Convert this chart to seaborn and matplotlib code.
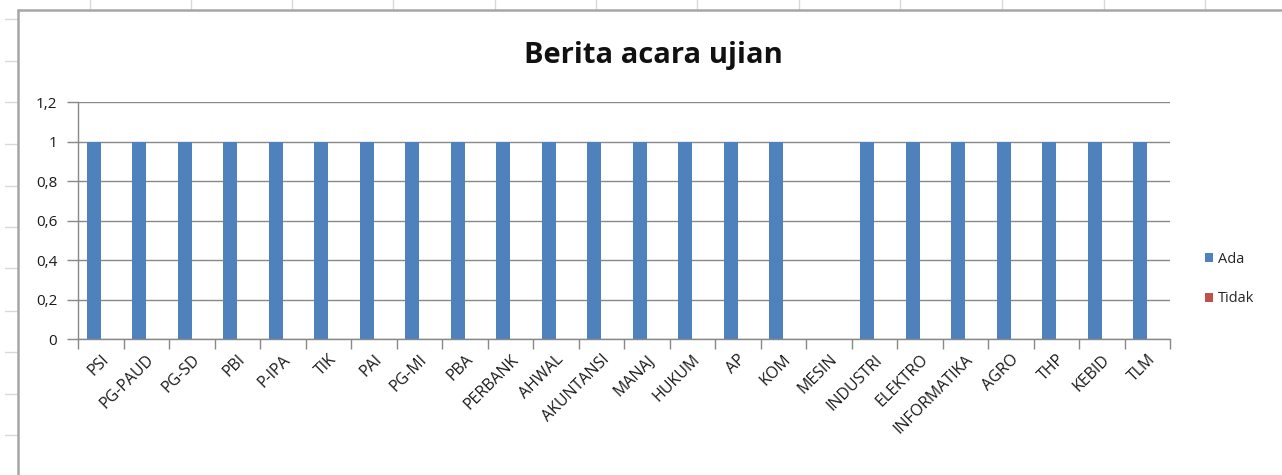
import matplotlib.pyplot as plt
import matplotlib.ticker as mtick
from matplotlib.lines import Line2D
import pandas as pd
import seaborn as sns

# jurusan / program studi
JURUSAN = [
    "PSI", "PG-PAUD", "PG-SD", "PBI", "P-IPA", "TIK", "PAI", "PG-MI", "PBA",
    "PERBANK", "AHWAL", "AKUNTANSI", "MANAJ", "HUKUM", "AP", "KOM", "MESIN",
    "INDUSTRI", "ELEKTRO", "INFORMATIKA", "AGRO", "THP", "KEBID", "TLM",
]
ADA = [1, 1, 1, 1, 1, 1, 1, 1, 1, 1, 1, 1, 1, 1, 1, 1, 0, 1, 1, 1, 1, 1, 1, 1]
TIDAK = [0] * len(JURUSAN)
SERIES = ["Ada", "Tidak"]
COLORS = {"Ada": "#4F81BD", "Tidak": "#C0504D"}

sns.set_theme(style="white")
plt.rcParams["font.family"] = ["Open Sans", "DejaVu Sans"]

df = pd.DataFrame({"jurusan": JURUSAN, "Ada": ADA, "Tidak": TIDAK})
long = df.melt(id_vars="jurusan", value_vars=SERIES, var_name="status", value_name="nilai")

W, H = 1282, 475
fig = plt.figure(figsize=(W / 100, H / 100), dpi=100)
fig.patch.set_facecolor("white")

# spreadsheet cell lines behind the chart object
for x in [90, 190.5, 292, 393, 495, 596, 697, 799, 900, 1002, 1104, 1205]:
    fig.add_artist(Line2D([x / W, x / W], [1, 1 - 10 / H], color="#d9d9d9", lw=1))
for y in [19, 61, 102, 144, 186, 227, 268, 311, 352, 394, 435]:
    fig.add_artist(Line2D([5 / W, 17 / W], [1 - y / H, 1 - y / H], color="#d9d9d9", lw=1))
# chart object border
fig.add_artist(Line2D([18 / W, 18 / W], [0, 1 - 10 / H], color="#a6a6a6", lw=1.8))
fig.add_artist(Line2D([18 / W, 1], [1 - 10 / H, 1 - 10 / H], color="#a6a6a6", lw=1.8))

ax = fig.add_axes([78 / W, 1 - 339.3 / H, (1170 - 78) / W, (339.3 - 102.3) / H])
sns.barplot(
    data=long, x="jurusan", y="nilai", hue="status", order=JURUSAN,
    hue_order=SERIES, palette=COLORS, width=0.615, gap=0, saturation=1,
    edgecolor="none", ax=ax, legend=True,
)
ax.set_xlim(-0.5, len(JURUSAN) - 0.5)
ax.set_ylim(0, 1.2)
ax.yaxis.set_major_locator(mtick.MultipleLocator(0.2))
ax.yaxis.set_major_formatter(
    mtick.FuncFormatter(lambda v, _: f"{v:.1f}".rstrip("0").rstrip(".").replace(".", ","))
)
ax.grid(axis="y", color="#888888", lw=1)
ax.set_axisbelow(True)
ax.set_xlabel("")
ax.set_ylabel("")
for s in ["top", "right"]:
    ax.spines[s].set_visible(False)
for s in ["left", "bottom"]:
    ax.spines[s].set_color("#888888")
    ax.spines[s].set_linewidth(1)

ax.tick_params(axis="y", which="major", left=True, length=8, width=1, color="#888888",
               labelsize=11, labelcolor="#1a1a1a", pad=7)
ax.tick_params(axis="x", which="major", bottom=False, labelsize=11.5, labelcolor="#1a1a1a", pad=3)
ax.xaxis.set_minor_locator(mtick.FixedLocator([i - 0.5 for i in range(len(JURUSAN) + 1)]))
ax.tick_params(axis="x", which="minor", bottom=True, length=7, width=1, color="#888888")
ax.set_xticks(range(len(JURUSAN)))
ax.set_xticklabels(JURUSAN, rotation=45, ha="right", rotation_mode="anchor")

fig.text(653 / W, 1 - 55 / H, "Berita acara ujian", fontsize=21, fontweight="bold",
         color="#111111", ha="center", va="center")

handles, labels = ax.get_legend_handles_labels()
ax.legend(
    handles, labels, loc="center left", bbox_to_anchor=(1192 / W, 1 - 279 / H),
    bbox_transform=fig.transFigure, frameon=False, fontsize=10.5,
    handlelength=0.55, handleheight=0.55, handletextpad=0.35, labelspacing=1.7,
)

fig.savefig("out.png", dpi=100)
